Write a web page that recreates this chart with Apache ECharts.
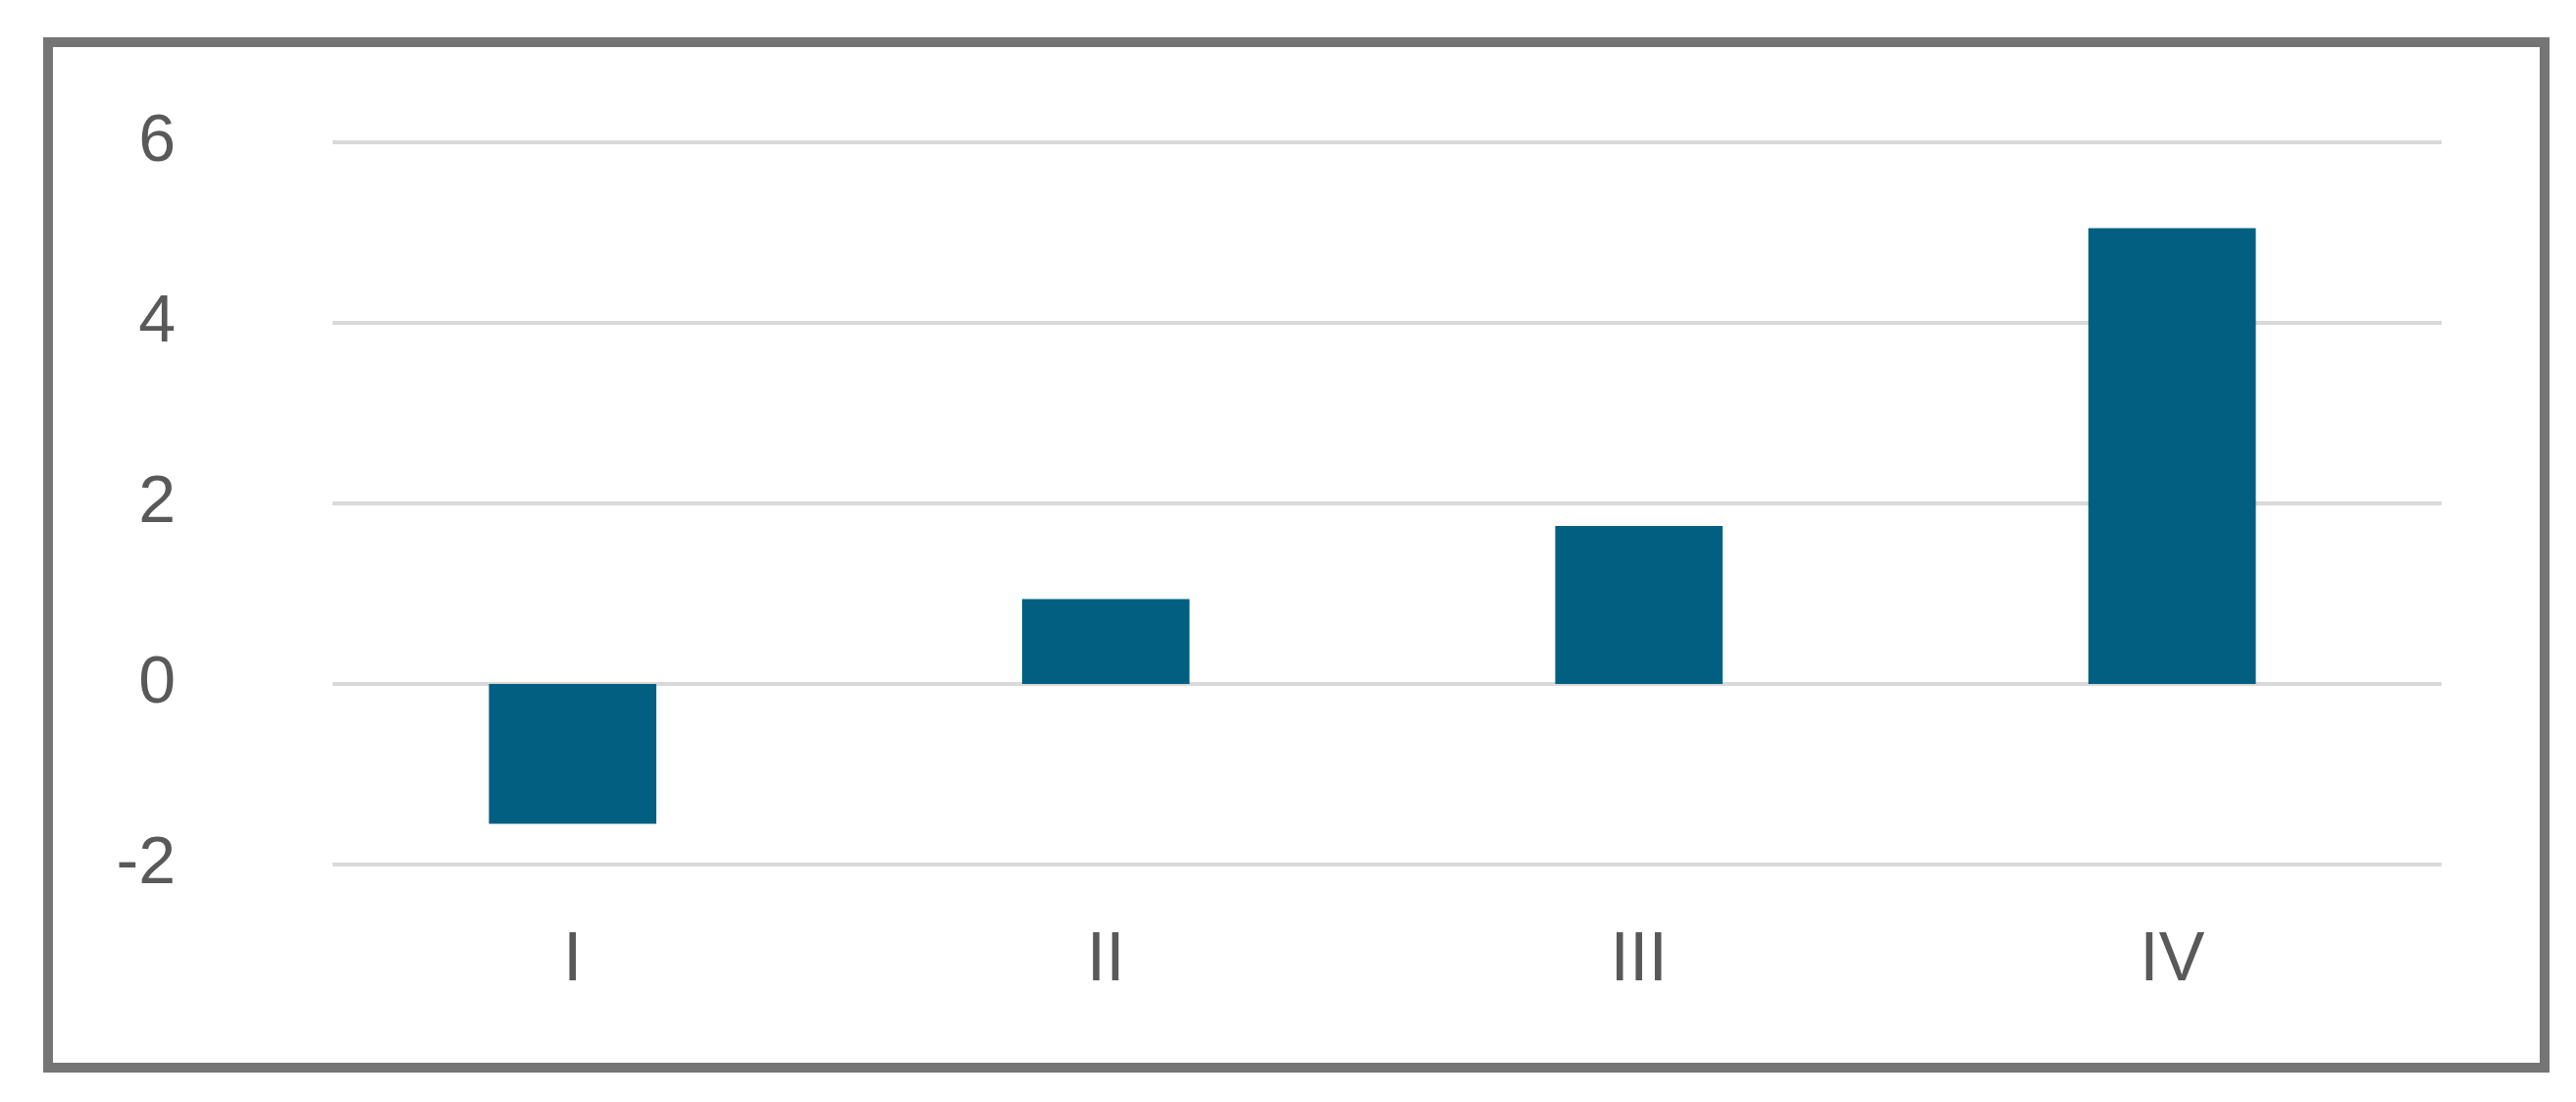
<!DOCTYPE html>
<html>
<head>
<meta charset="utf-8">
<script src="https://cdn.jsdelivr.net/npm/echarts@6/dist/echarts.min.js"></script>
<style>
  html, body { margin: 0; padding: 0; background: #fff; }
  #chart { width: 2626px; height: 1123px; }
</style>
</head>
<body>
<div id="chart"></div>
<script>
const categories = ["I", "II", "III", "IV"];
const values = [-1.55, 0.94, 1.75, 5.05];
const yMin = -2;
const yMax = 6;
const yStep = 2;

const chart = echarts.init(document.getElementById("chart"));
chart.setOption({
  backgroundColor: "#fff",
  animation: false,
  textStyle: { fontFamily: "Liberation Sans, Arial, sans-serif" },
  // outer frame
  graphic: [{
    type: "rect",
    shape: { x: 49, y: 43, width: 2545, height: 1045 },
    style: { fill: "none", stroke: "#757575", lineWidth: 10 },
    silent: true
  }],
  // grid 0 holds the bars, grid 1 only the gridlines + y labels
  // (gridlines start a bit to the right of the first band)
  grid: [
    { left: 312, right: 140, top: 145, bottom: 242 },
    { left: 339, right: 137, top: 145, bottom: 242 }
  ],
  xAxis: [{
    type: "category",
    gridIndex: 0,
    data: categories,
    axisLine: { show: false },
    axisTick: { show: false },
    axisLabel: {
      color: "#595959",
      fontSize: 70,
      margin: 64
    }
  }, {
    type: "value",
    gridIndex: 1,
    show: false
  }],
  yAxis: [{
    type: "value",
    gridIndex: 0,
    min: yMin,
    max: yMax,
    interval: yStep,
    show: false
  }, {
    type: "value",
    gridIndex: 1,
    min: yMin,
    max: yMax,
    interval: yStep,
    axisLine: { show: false },
    axisTick: { show: false },
    axisLabel: {
      color: "#595959",
      fontSize: 68,
      margin: 160
    },
    splitLine: {
      lineStyle: { color: "#d9d9d9", width: 4 }
    }
  }],
  series: [{
    type: "bar",
    xAxisIndex: 0,
    yAxisIndex: 0,
    data: values,
    barWidth: "31.4%",
    itemStyle: { color: "#016082" }
  }]
});
</script>
</body>
</html>
